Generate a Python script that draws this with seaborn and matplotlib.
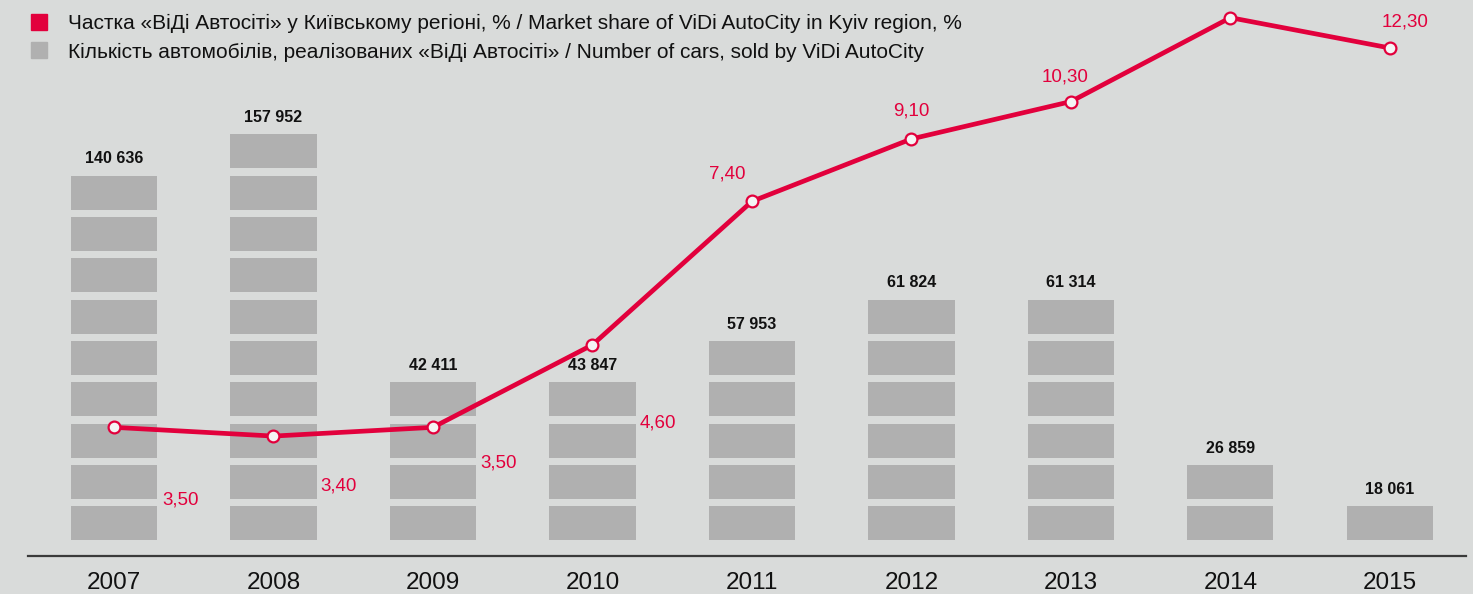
import numpy as np
import pandas as pd
import matplotlib
matplotlib.use("Agg")
import matplotlib.pyplot as plt
from matplotlib.lines import Line2D
import seaborn as sns

years = ["2007", "2008", "2009", "2010", "2011", "2012", "2013", "2014", "2015"]
cars_sold = [140636, 157952, 42411, 43847, 57953, 61824, 61314, 26859, 18061]
# number of blocks drawn in each bar
blocks = [9, 10, 4, 4, 5, 6, 6, 2, 1]
share = [3.5, 3.4, 3.5, 4.6, 7.4, 9.1, 10.3, 13.6, 12.3]
share_labels = ["3,50", "3,40", "3,50", "4,60", "7,40", "9,10", "10,30", "", "12,30"]

BG = "#d9dbda"
GREY = "#b0b0b0"
RED = "#e2003c"

sns.set_theme(style="white")
plt.rcParams["font.family"] = ["Liberation Sans", "DejaVu Sans"]

W, H = 1473, 594
fig = plt.figure(figsize=(W / 100, H / 100), dpi=100, facecolor=BG)
ax = fig.add_axes([28 / W, (H - 555.5) / H, (1466 - 28) / W, 555.5 / H])
ax.set_facecolor(BG)

df = pd.DataFrame({"year": years, "blocks": blocks, "cars": cars_sold})
sns.barplot(data=df, x="year", y="blocks", color=GREY, saturation=1,
            width=0.54, ax=ax, zorder=1, linewidth=0, edgecolor="none")

# gaps between the blocks
gap = 0.177
for k in range(max(blocks) + 1):
    ax.axhspan(k + 1 - gap, k + 1, color=BG, lw=0, zorder=2)

for i, (n, v) in enumerate(zip(blocks, cars_sold)):
    txt = f"{v:,}".replace(",", " ")
    ax.annotate(txt, (i, n - gap), xytext=(0, 9), textcoords="offset points",
                ha="center", va="baseline", fontsize=11.5, fontweight="bold",
                color="#111111", zorder=5)

ax.set_ylim(-15 / 41.3, 540 / 41.3)
ax.set_yticks([])
ax.set_xlabel("")
ax.set_ylabel("")
for s in ["top", "left", "right"]:
    ax.spines[s].set_visible(False)
ax.spines["bottom"].set_color("#3a3a3a")
ax.spines["bottom"].set_linewidth(1.6)

# share line on second axis
ax2 = ax.twinx()
ax2.set_zorder(ax.get_zorder() + 1)
ax2.patch.set_visible(False)
sns.lineplot(x=np.arange(len(share)), y=share, ax=ax2, color=RED, lw=3.4,
             marker="o", markersize=8.5, markerfacecolor="#f4f4f4",
             markeredgecolor=RED, markeredgewidth=1.6, clip_on=False)
ax2.set_yscale("log")
ax2.set_ylim(2.289, 14.42)
ax2.set_yticks([])
ax2.set_yticks([], minor=True)
ax2.set_ylabel("")
for s in ax2.spines.values():
    s.set_visible(False)

offsets = [(48, -52), (47, -36), (47, -26), (47, -56), (-18, 20), (0, 20),
           (-4, 18), (0, 0), (11, 19)]
for i, (v, lab) in enumerate(zip(share, share_labels)):
    if not lab:
        continue
    ax2.annotate(lab, (i, v), xytext=offsets[i], textcoords="offset points",
                 ha="center", va="center", fontsize=13.5, color=RED)

ax.set_xlim(-0.539, 8.477)
ax.set_xticks(range(len(years)), years)
ax.tick_params(axis="x", length=0, pad=12, labelsize=17.5, labelcolor="#111111")

handles = [
    Line2D([], [], marker="s", ls="none", color=RED, markersize=11.5),
    Line2D([], [], marker="s", ls="none", color=GREY, markersize=11.5),
]
labels = [
    "Частка «ВіДі Автосіті» у Київському регіоні, % / Market share of ViDi AutoCity in Kyiv region, %",
    "Кількість автомобілів, реалізованих «ВіДі Автосіті» / Number of cars, sold by ViDi AutoCity",
]
fig.legend(handles, labels, loc="upper left", bbox_to_anchor=(10 / W, 1 + 5 / H),
           frameon=False, fontsize=15, handlelength=1.0, handletextpad=0.9,
           labelspacing=0.47, labelcolor="#111111")

fig.savefig("out.png", dpi=100, facecolor=BG)
